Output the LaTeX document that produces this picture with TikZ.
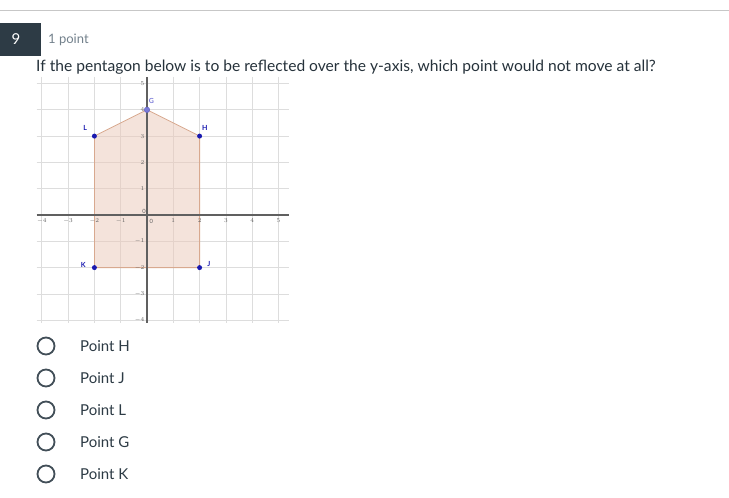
\documentclass[tikz,border=0pt]{standalone}
\usepackage{fontspec}
\setmainfont{Lato}
\definecolor{ink}{HTML}{2D3B45}
\definecolor{boxc}{RGB}{45,59,69}
\definecolor{muted}{HTML}{73818C}
\definecolor{gridc}{HTML}{DDDDDD}
\definecolor{axisc}{HTML}{606060}
\definecolor{polyfill}{HTML}{EBC9B9}
\definecolor{polyedge}{HTML}{D8A98F}
\definecolor{ptblue}{HTML}{1A1AB0}
\definecolor{gblue}{HTML}{7A7AD8}
\tikzset{
  ticklab/.style={font=\fontsize{5.8}{7}\selectfont, text=axisc, inner sep=1pt},
  ptlab/.style={font=\fontsize{7}{8}\selectfont\bfseries, text=ptblue, inner sep=1pt},
  pt/.style={circle, fill=ptblue, inner sep=0pt, minimum size=5pt},
  radio/.style={circle, draw=ink!90, line width=1.8pt, minimum size=17pt, inner sep=0pt},
  opt/.style={anchor=west, font=\fontsize{15}{18}\selectfont, text=ink, inner sep=0pt}
}
\begin{document}
\begin{tikzpicture}[x=1pt,y=-1pt]
\path[use as bounding box, fill=white] (0,0) rectangle (729,498);
% header
\coordinate (hl) at (0,10);
\coordinate (hr) at (729,10);
\draw[gridc!90!black, line width=0.8pt] (hl) -- (hr);
\node[draw=boxc, fill=boxc, text=white, minimum width=40pt, minimum height=32pt, inner sep=0pt, font=\fontsize{15}{18}\selectfont] (num) at (20,39) {\hspace*{-8pt}9};
\node[anchor=west, text=muted, font=\fontsize{13}{15}\selectfont, inner sep=0pt] (pts) at (48,39.5) {1 point};
\node[anchor=west, text=ink!85!black, font=\fontsize{15.6}{18}\selectfont, inner sep=0pt] (q) at (36,67) {If the pentagon below is to be reflected over the y-axis, which point would not move at all?};
% graph
\begin{scope}[shift={(147,215)}, x=26.3pt, y=26.3pt]
  \foreach \i in {-4,...,5} {
    \coordinate (vt\i) at (\i,5.25);
    \coordinate (vb\i) at (\i,-4.1);
    \draw[gridc, line width=0.7pt] (vt\i) -- (vb\i);
  }
  \foreach \j in {-4,...,5} {
    \coordinate (hl\j) at (-4.2,\j);
    \coordinate (hr\j) at (5.4,\j);
    \draw[gridc, line width=0.7pt] (hl\j) -- (hr\j);
  }
  \coordinate (L) at (-2,3);
  \coordinate (G) at (0,4);
  \coordinate (H) at (2,3);
  \coordinate (J) at (2,-2);
  \coordinate (K) at (-2,-2);
  \fill[polyfill, fill opacity=0.5] (L) -- (G) -- (H) -- (J) -- (K) -- cycle;
  \draw[polyedge, line width=0.8pt] (L) -- (G) -- (H) -- (J) -- (K) -- cycle;
  % axes
  \coordinate (xa) at (-4.2,0);
  \coordinate (xb) at (5.4,0);
  \coordinate (ya) at (0,-4.1);
  \coordinate (yb) at (0,5.25);
  \draw[axisc, line width=1.1pt] (xa) -- (xb);
  \draw[axisc, line width=1.1pt] (ya) -- (yb);
  \foreach \i in {-4,-3,-2,-1,1,2,3,4,5} {
    \node[ticklab, anchor=north] (tx\i) at (\i,-0.08) {$\i$};
  }
  \foreach \j in {-4,-3,-2,-1,1,2,3,4,5} {
    \node[ticklab, anchor=east] (ty\j) at (-0.06,\j) {$\j$};
  }
  \node[ticklab, anchor=south east] (t0y) at (0,0.02) {0};
  \node[ticklab, anchor=north west] (t0x) at (0.05,-0.12) {0};
  % points
  \node[pt] (pL) at (L) {};
  \node[pt] (pH) at (H) {};
  \node[pt] (pJ) at (J) {};
  \node[pt] (pK) at (K) {};
  \node[circle, fill=gblue, draw=ptblue!70, inner sep=0pt, minimum size=5.5pt] (pG) at (G) {};
  \node[ptlab] (lL) at (-2.35,3.3) {L};
  \node[ptlab] (lH) at (2.2,3.32) {H};
  \node[ptlab, text=gblue] (lG) at (0.17,4.32) {G};
  \node[ptlab] (lK) at (-2.42,-1.9) {K};
  \node[ptlab] (lJ) at (2.35,-1.85) {J};
\end{scope}
% options
\foreach \y/\t [count=\k] in {346/H,378/J,410/L,442/G,474/K} {
  \node[radio] (r\k) at (46,\y) {};
  \node[opt] (o\k) at (80,\y) {Point \t};
}
\end{tikzpicture}
\end{document}
